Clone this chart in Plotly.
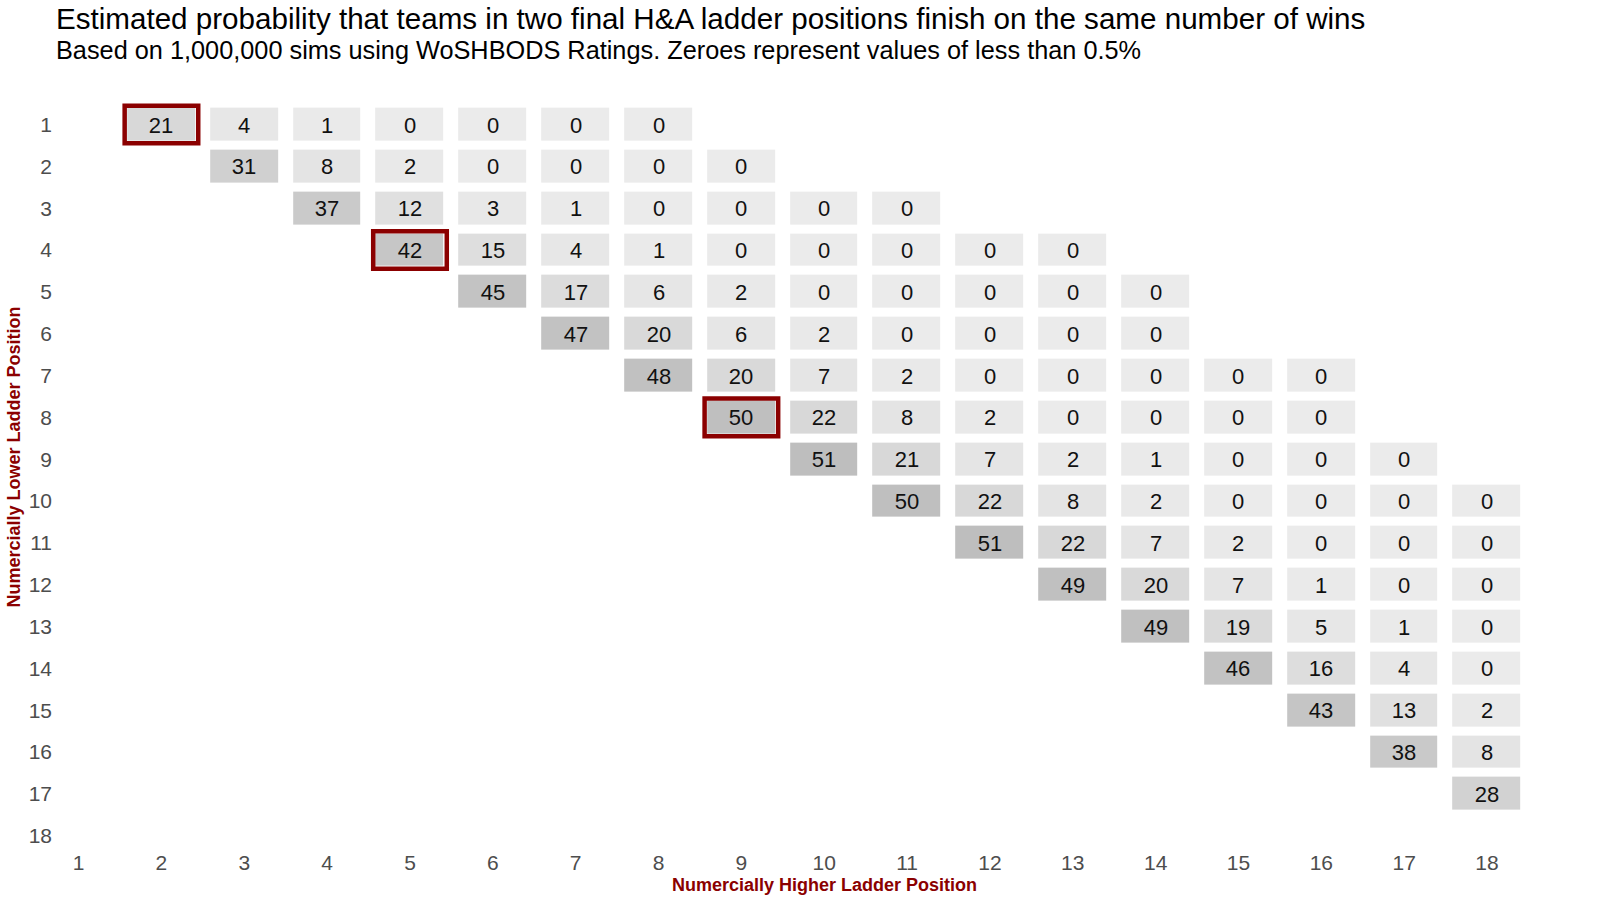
import plotly.graph_objects as go

# Probability (%) that two ladder positions finish on the same number of wins
# row = numerically lower position, each row starts at column row_start
positions = list(range(1, 19))
row_start = [2, 3, 4, 5, 6, 7, 8, 9, 10, 11, 12, 13, 14, 15, 16, 17, 18]
row_values = [
    [21, 4, 1, 0, 0, 0, 0],
    [31, 8, 2, 0, 0, 0, 0],
    [37, 12, 3, 1, 0, 0, 0, 0],
    [42, 15, 4, 1, 0, 0, 0, 0, 0],
    [45, 17, 6, 2, 0, 0, 0, 0, 0],
    [47, 20, 6, 2, 0, 0, 0, 0],
    [48, 20, 7, 2, 0, 0, 0, 0, 0],
    [50, 22, 8, 2, 0, 0, 0, 0],
    [51, 21, 7, 2, 1, 0, 0, 0],
    [50, 22, 8, 2, 0, 0, 0, 0],
    [51, 22, 7, 2, 0, 0, 0],
    [49, 20, 7, 1, 0, 0],
    [49, 19, 5, 1, 0],
    [46, 16, 4, 0],
    [43, 13, 2],
    [38, 8],
    [28],
]
# highlighted cells (lower position, higher position)
highlight_rows = [1, 4, 8]
highlight_cols = [2, 5, 9]

z = [[None] * len(positions) for _ in positions]
for i, (start, vals) in enumerate(zip(row_start, row_values)):
    for k, v in enumerate(vals):
        z[i][start - 1 + k] = v

DARKRED = "#8B0000"
FONT = "Liberation Sans, Arial, sans-serif"

fig = go.Figure(
    go.Heatmap(
        x=positions,
        y=positions,
        z=z,
        zmin=0,
        zmax=51,
        colorscale=[[0, "#ebebeb"], [1, "#bebebe"]],
        showscale=False,
        xgap=15,
        ygap=9,
        texttemplate="%{z}",
        textfont=dict(size=22, color="#111111", family=FONT),
        hoverinfo="skip",
    )
)

for r, c in zip(highlight_rows, highlight_cols):
    fig.add_shape(
        type="rect",
        x0=c - 0.444, x1=c + 0.444,
        y0=r - 0.45, y1=r + 0.45,
        line=dict(color=DARKRED, width=4.5),
        fillcolor="rgba(0,0,0,0)",
    )

fig.update_xaxes(
    range=[0.691, 18.555],
    tickvals=positions,
    showgrid=False,
    zeroline=False,
    showline=False,
    tickfont=dict(size=21, color="#4d4d4d"),
)
fig.update_yaxes(
    range=[18.294, 0.462],
    tickvals=positions,
    showgrid=False,
    zeroline=False,
    showline=False,
    tickfont=dict(size=21, color="#4d4d4d"),
)

# plot area spans x 53..1533 px, y 102..848 px
fig.update_layout(
    width=1600,
    height=900,
    plot_bgcolor="white",
    paper_bgcolor="white",
    font=dict(family=FONT),
    margin=dict(l=53, r=67, t=102, b=52),
    annotations=[
        dict(
            text="Estimated probability that teams in two final H&A ladder positions finish on the same number of wins",
            xref="paper", yref="paper",
            x=0.0005, y=1.112,
            xanchor="left", yanchor="middle",
            showarrow=False,
            font=dict(size=29.6, color="black"),
        ),
        dict(
            text="Based on 1,000,000 sims using WoSHBODS Ratings. Zeroes represent values of less than 0.5%",
            xref="paper", yref="paper",
            x=0.0005, y=1.0697,
            xanchor="left", yanchor="middle",
            showarrow=False,
            font=dict(size=25.3, color="black"),
        ),
        dict(
            text="<b>Numercially Higher Ladder Position</b>",
            xref="paper", yref="paper",
            x=0.521, y=-0.0492,
            xanchor="center", yanchor="middle",
            showarrow=False,
            font=dict(size=18, color=DARKRED),
        ),
        dict(
            text="<b>Numercially Lower Ladder Position</b>",
            xref="paper", yref="paper",
            x=-0.0261, y=0.524,
            xanchor="center", yanchor="middle",
            textangle=-90,
            showarrow=False,
            font=dict(size=18, color=DARKRED),
        ),
    ],
)

fig.write_html(
    "out.html",
    config={"displayModeBar": False},
    post_script="document.body.style.margin='0';document.body.style.overflow='hidden';",
)
